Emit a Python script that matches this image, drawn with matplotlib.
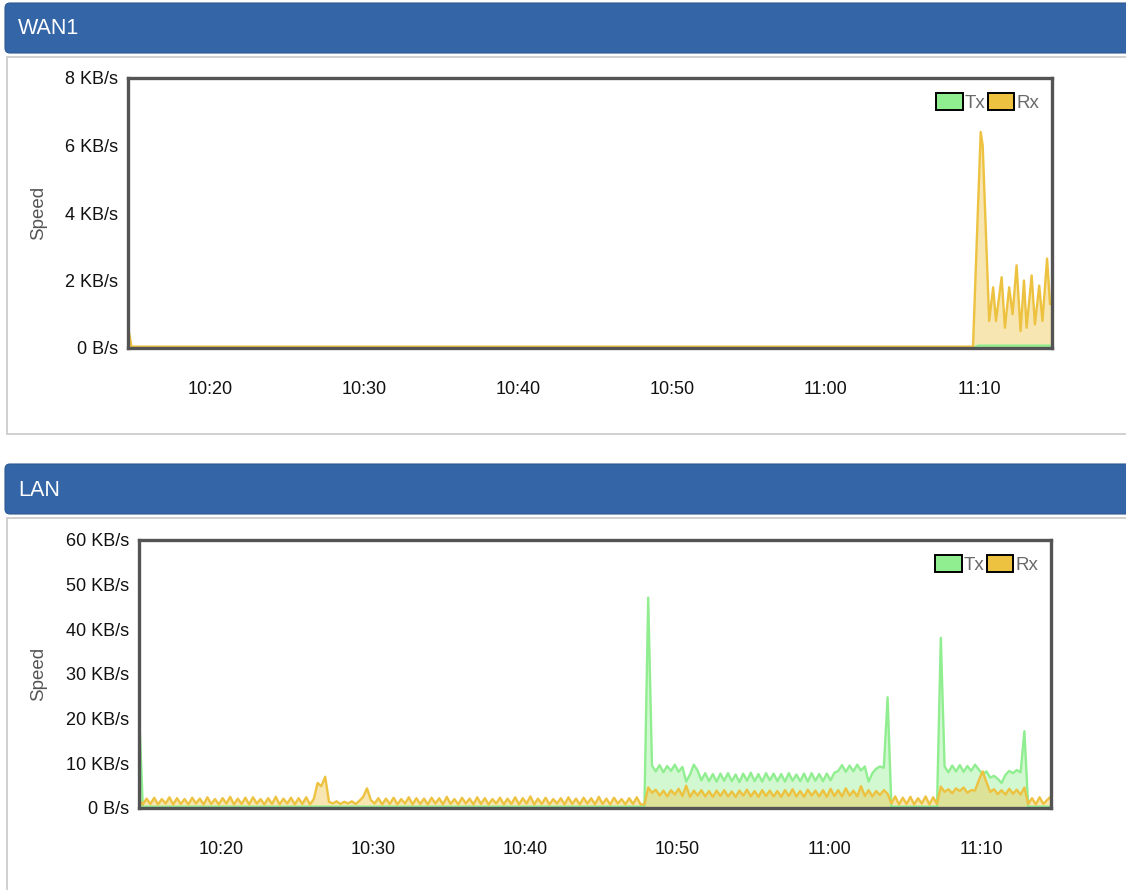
#!/usr/bin/env python3

#
# Traffic graphs for WAN1 and LAN (Tx / Rx speed over one hour)
#

import numpy as np
import matplotlib
matplotlib.use('Agg')
import matplotlib.pyplot as plt
from matplotlib.patches import Rectangle, FancyBboxPatch, Patch
from matplotlib.ticker import FuncFormatter

plt.rcParams['font.family'] = ['Liberation Sans', 'DejaVu Sans']

#x values are minutes after 10:00
tick_minutes = [20, 30, 40, 50, 60, 70]
tick_labels = ['10:20', '10:30', '10:40', '10:50', '11:00', '11:10']

#WAN1, KB/s
wan_start = 14.68
wan_rx_min = [14.68, 14.81, 14.9, 69.55, 70.05, 70.18, 70.60, 70.86, 71.04, 71.41,
              71.62, 71.90, 72.12, 72.38, 72.64, 72.86, 73.03, 73.36, 73.57, 73.85,
              74.06, 74.36, 74.55, 74.68]
wan_rx = [0.6, 0.3, 0.04, 0.04, 6.4, 6.0, 0.8, 1.8, 0.8, 2.1,
          0.6, 1.8, 1.0, 2.45, 0.5, 2.0, 0.6, 2.15, 0.7, 1.85,
          0.8, 2.65, 1.3, 1.3]
wan_tx_min = [14.68, 69.55, 69.9, 74.68]
wan_tx = [0.0, 0.0, 0.07, 0.07]

#LAN, KB/s, one sample every 15 s starting 10:14:36
lan_start = 14.6
lan_step = 0.25
lan_rx = [
    1.8, 0.8, 2.1, 0.9, 2.3, 0.8, 2.0, 1.0, 2.4, 0.8,
    2.2, 0.9, 2.0, 0.8, 2.3, 1.0, 2.1, 0.8, 2.4, 0.9,
    2.0, 0.8, 2.2, 1.0, 2.5, 0.8, 2.1, 0.9, 2.3, 0.8,
    2.4, 1.0, 2.0, 0.8, 2.2, 0.9, 2.5, 0.8, 2.1, 1.0,
    2.3, 0.8, 2.2, 0.9, 2.4, 0.8, 2.0, 5.6, 4.9, 7.0,
    1.4, 1.0, 1.5, 0.9, 1.4, 1.0, 1.5, 0.9, 1.6, 2.5,
    4.4, 1.8, 1.0, 2.2, 0.8, 2.1, 0.9, 2.3, 0.8, 2.0,
    1.0, 2.4, 0.8, 2.2, 0.9, 2.1, 0.8, 2.3, 1.0, 2.2,
    0.8, 2.5, 0.9, 2.0, 0.8, 2.3, 1.0, 2.1, 0.8, 2.4,
    0.9, 2.2, 0.8, 2.0, 1.0, 2.3, 0.8, 2.1, 0.9, 2.4,
    0.8, 2.2, 1.0, 2.6, 0.8, 2.1, 0.9, 2.3, 0.8, 2.0,
    1.0, 2.2, 0.8, 2.4, 0.9, 2.1, 0.8, 2.3, 1.0, 2.2,
    0.8, 2.5, 0.9, 2.1, 0.8, 2.3, 1.0, 2.0, 0.8, 2.2,
    0.9, 2.4, 0.8, 0.8, 4.6, 3.4, 4.1, 2.8, 3.9, 2.6,
    4.0, 3.0, 4.3, 2.7, 5.0, 2.5, 3.9, 2.8, 4.0, 2.6,
    3.8, 2.5, 3.9, 2.7, 4.0, 2.6, 3.7, 2.5, 3.9, 2.8,
    4.1, 2.6, 3.8, 2.5, 4.0, 2.7, 3.9, 2.6, 3.8, 2.5,
    4.0, 2.7, 4.2, 2.6, 3.8, 2.5, 4.1, 2.8, 3.9, 2.6,
    4.0, 2.5, 4.3, 2.7, 4.0, 2.6, 4.4, 2.8, 3.9, 2.6,
    4.9, 2.7, 4.0, 2.6, 3.8, 2.9, 4.0, 3.2, 1.0, 2.6,
    0.8, 2.3, 0.9, 2.5, 0.8, 2.2, 1.0, 2.6, 0.8, 2.4,
    0.9, 4.8, 3.6, 4.2, 3.3, 4.4, 3.8, 4.6, 3.4, 4.0,
    3.9, 6.2, 8.2, 5.8, 3.6, 4.2, 3.1, 4.0, 3.0, 4.3,
    3.2, 4.1, 3.0, 4.6, 0.9, 2.2, 0.8, 2.4, 0.9, 1.8,
    2.6]
lan_tx = [
    22.0, 0.3, 0.3, 0.3, 0.3, 0.3, 0.3, 0.3, 0.3, 0.3,
    0.3, 0.3, 0.3, 0.3, 0.3, 0.3, 0.3, 0.3, 0.3, 0.3,
    0.3, 0.3, 0.3, 0.3, 0.3, 0.3, 0.3, 0.3, 0.3, 0.3,
    0.3, 0.3, 0.3, 0.3, 0.3, 0.3, 0.3, 0.3, 0.3, 0.3,
    0.3, 0.3, 0.3, 0.3, 0.3, 0.3, 0.3, 0.3, 0.3, 0.3,
    0.3, 0.3, 0.3, 0.3, 0.3, 0.3, 0.3, 0.3, 0.3, 0.3,
    0.3, 0.3, 0.3, 0.3, 0.3, 0.3, 0.3, 0.3, 0.3, 0.3,
    0.3, 0.3, 0.3, 0.3, 0.3, 0.3, 0.3, 0.3, 0.3, 0.3,
    0.3, 0.3, 0.3, 0.3, 0.3, 0.3, 0.3, 0.3, 0.3, 0.3,
    0.3, 0.3, 0.3, 0.3, 0.3, 0.3, 0.3, 0.3, 0.3, 0.3,
    0.3, 0.3, 0.3, 0.3, 0.3, 0.3, 0.3, 0.3, 0.3, 0.3,
    0.3, 0.3, 0.3, 0.3, 0.3, 0.3, 0.3, 0.3, 0.3, 0.3,
    0.3, 0.3, 0.3, 0.3, 0.3, 0.3, 0.3, 0.3, 0.3, 0.3,
    0.3, 0.3, 0.3, 0.3, 47.1, 9.5, 8.2, 9.6, 8.0, 9.4,
    8.3, 9.7, 8.1, 9.2, 5.9, 7.5, 9.7, 8.4, 6.2, 7.8,
    6.0, 7.6, 5.9, 7.7, 6.1, 7.8, 6.0, 7.5, 5.8, 7.7,
    6.1, 7.9, 6.0, 7.6, 5.9, 7.8, 6.2, 7.7, 6.0, 7.6,
    5.9, 7.8, 6.1, 7.5, 6.0, 7.7, 5.9, 7.8, 6.1, 7.6,
    6.0, 7.7, 6.2, 7.9, 8.3, 9.6, 8.1, 9.5, 8.2, 9.7,
    8.4, 9.3, 5.9, 7.8, 8.8, 9.3, 9.0, 24.8, 0.3, 0.3,
    0.3, 0.3, 0.3, 0.3, 0.3, 0.3, 0.3, 0.3, 0.3, 0.3,
    0.3, 38.1, 9.3, 8.0, 9.5, 8.2, 9.6, 8.1, 9.4, 8.3,
    9.7, 8.6, 7.5, 8.2, 6.8, 7.2, 6.5, 5.6, 7.4, 8.3,
    7.8, 8.5, 8.0, 17.2, 0.3, 0.3, 0.3, 0.3, 0.3, 0.3,
    0.3]
lan_min = lan_start + lan_step * np.arange(len(lan_rx))

TX_COL = '#90ee90'
RX_COL = '#edc240'
HEAD_COL = '#3465a6'

W, H = 1126, 890
fig = plt.figure(figsize=(W / 100, H / 100), dpi=100)

#background layer in pixel coordinates for the panel boxes
bg = fig.add_axes([0, 0, 1, 1], zorder=-10)
bg.set_xlim(0, W)
bg.set_ylim(H, 0)
bg.axis('off')


def panel(top, title):
    #header bar with rounded corners
    bg.add_patch(FancyBboxPatch((5, top), 1135, 50, boxstyle='round,pad=0,rounding_size=5',
                                facecolor=HEAD_COL, edgecolor='#2d5a94', lw=0.8))
    bg.text(18, top + 26, title, color='white', fontsize=15.5, va='center', ha='left')
    #white body
    bg.add_patch(Rectangle((7, top + 54), 1140, 377, facecolor='white',
                           edgecolor='#c8c8c8', lw=1.2))


panel(3, 'WAN1')
panel(464, 'LAN')


def speedFmt(v, pos):
    if v == 0:
        return '0 B/s'
    return '%g KB/s' % v


def drawGraph(rect, x0, tx_x, tx_y, rx_x, rx_y, ymax, ystep, label_x):

    ax = fig.add_axes(rect)

    ax.fill_between(tx_x, 0, tx_y, color=TX_COL, alpha=0.4, lw=0)
    ax.plot(tx_x, tx_y, color=TX_COL, lw=1.7)
    ax.fill_between(rx_x, 0, rx_y, color=RX_COL, alpha=0.4, lw=0)
    ax.plot(rx_x, rx_y, color=RX_COL, lw=1.7)

    ax.set_xlim(x0, x0 + 60)
    ax.set_ylim(0, ymax)

    ax.set_xticks(tick_minutes)
    ax.set_xticklabels(tick_labels)
    ax.set_yticks(np.arange(0, ymax + 1, ystep))
    ax.yaxis.set_major_formatter(FuncFormatter(speedFmt))
    ax.tick_params(length=0, labelsize=13, colors='#111111')
    ax.tick_params(axis='x', pad=24)
    ax.tick_params(axis='y', pad=7)

    for s in ax.spines.values():
        s.set_color('#545454')
        s.set_linewidth(2.4)

    ax.set_ylabel('Speed', fontsize=13.5, color='#555555')
    ax.yaxis.set_label_coords(label_x, 0.5)

    handles = [Patch(facecolor=TX_COL, edgecolor='black', lw=1.4, label='Tx'),
               Patch(facecolor=RX_COL, edgecolor='black', lw=1.4, label='Rx')]
    ax.legend(handles=handles, loc='upper right', ncol=2, frameon=False,
              bbox_to_anchor=(1 - 13 / 924, 1 - 15 / 270), borderaxespad=0, borderpad=0,
              handlelength=1.4, handleheight=1.0, handletextpad=0.1, columnspacing=0.15,
              fontsize=13.5, labelcolor='#6a6a6a')
    return ax


drawGraph([128 / W, 1 - 348 / H, 924 / W, 270 / H], wan_start,
          wan_tx_min, wan_tx, wan_rx_min, wan_rx, 8, 2, -0.088)
drawGraph([139 / W, 1 - 808 / H, 912 / W, 268 / H], lan_start,
          lan_min, lan_tx, lan_min, lan_rx, 60, 10, -0.101)

fig.savefig('out.png', dpi=100)
